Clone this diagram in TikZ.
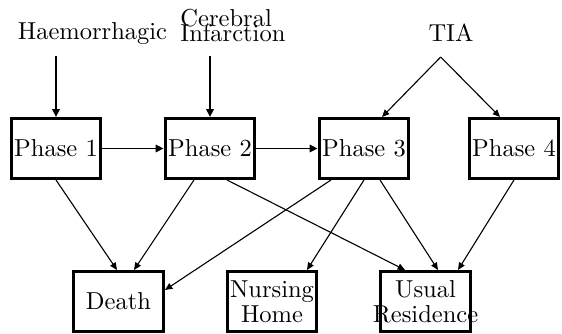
\documentclass[tikz,border=0pt]{standalone}
\usepackage{tikz}
\usetikzlibrary{positioning,calc,arrows.meta}
\newcommand{\spill}[1]{\makebox[0pt]{#1}}

\begin{document}
\begin{tikzpicture}[x=0.408pt,y=-0.408pt,
  state/.style={draw,line width=1.4pt,minimum width=36.5pt,minimum height=24.3pt,inner sep=0pt,align=center},
  entry/.style={-{Triangle[length=3.2pt,width=3pt]},line width=0.8pt},
  move/.style={-{Triangle[length=3pt,width=2.6pt]},line width=0.45pt}]
  \useasboundingbox (0,0) rectangle (562,334);

  % stroke types
  \node[anchor=base] (haem) at (92.5,40) {Haemorrhagic};
  \node[anchor=north west,inner sep=0pt,align=left] (cereb) at (180,9) {Cerebral\\[-6pt]Infarction};
  \node[anchor=base] (tia) at (451,42) {TIA};
  \coordinate (haemin) at (56,56);
  \coordinate (cerebin) at (210,56);
  \coordinate (tiafork) at (440.7,57);

  % phases
  \node[state] (p1) at (56,148.5) {Phase 1};
  \node[state] (p2) at (210,148.5) {Phase 2};
  \node[state] (p3) at (364,148.5) {Phase 3};
  \node[state] (p4) at (514,148.5) {Phase 4};

  % outcomes
  \node[state] (death) at (118.5,301.5) {Death};
  \node[state] (nursing) at (272,301.5) {Nursing\\[-1.8pt]Home};
  \node[state] (usual) at (425.5,301.5) {Usual\\[-1.8pt]\spill{Residence}};

  % entry and progression
  \draw[entry] (haemin) -- (p1.north);
  \draw[entry] (cerebin) -- (p2.north);
  \draw[move] (tiafork) -- ($(p3.north)+(18,0)$);
  \draw[move] (tiafork) -- ($(p4.north)+(-14,0)$);
  \draw[entry] (p1) -- (p2);
  \draw[entry] (p2) -- (p3);

  % discharge
  \draw[move] (p1.south) -- ($(death.north)+(-1.5,0)$);
  \draw[move] ($(p2.south)+(-16,0)$) -- ($(death.north)+(15.5,0)$);
  \draw[move] ($(p2.south)+(17,0)$) -- ($(usual.north)+(-20.5,0)$);
  \draw[move] ($(p3.south)+(-33,0)$) -- ($(death.east)+(0,-11.5)$);
  \draw[move] (p3.south) -- ($(nursing.north)+(35,0)$);
  \draw[move] ($(p3.south)+(16,0)$) -- ($(usual.north)+(12.5,0)$);
  \draw[move] (p4.south) -- ($(usual.north)+(32.5,0)$);
\end{tikzpicture}
\end{document}
